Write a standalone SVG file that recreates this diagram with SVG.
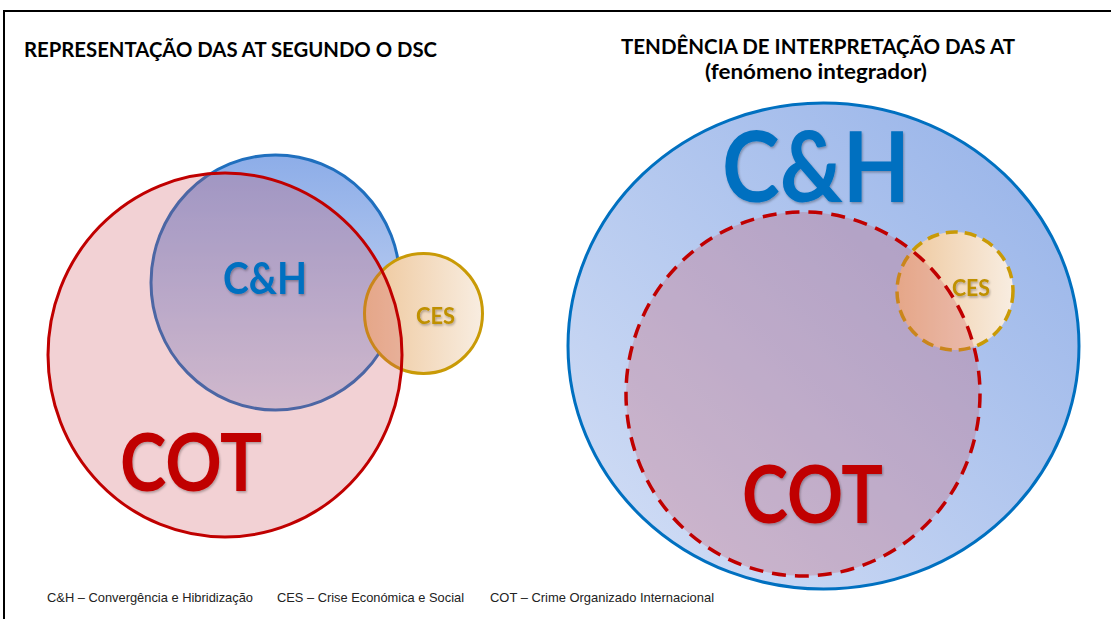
<svg xmlns="http://www.w3.org/2000/svg" width="1111" height="619" viewBox="0 0 1111 619">
  <defs>
    <linearGradient id="gBlueL" x1="0" y1="0" x2="0" y2="1">
      <stop offset="0" stop-color="#8DADE8"/>
      <stop offset="1" stop-color="#D2DEF5"/>
    </linearGradient>
    <linearGradient id="gBlueR" x1="1" y1="0" x2="0" y2="1">
      <stop offset="0" stop-color="#94B1E8"/>
      <stop offset="1" stop-color="#D5E0F6"/>
    </linearGradient>
    <linearGradient id="gCes" x1="0" y1="0" x2="1" y2="0">
      <stop offset="0" stop-color="#EEC699"/>
      <stop offset="1" stop-color="#F8EDE1"/>
    </linearGradient>
    <filter id="shadow" x="-10%" y="-10%" width="130%" height="130%">
      <feDropShadow dx="1" dy="1.5" stdDeviation="1" flood-color="#000" flood-opacity="0.3"/>
    </filter>
  </defs>
  <style>
    .title { font-family: Lato, "Liberation Sans", sans-serif; font-weight: bold; font-size: 20.5px; fill: #000; }
    .legend { font-family: "Liberation Sans", Arial, sans-serif; font-size: 13.5px; fill: #222; }
    .lbl { font-family: Lato, "Liberation Sans", sans-serif; font-weight: bold; filter: url(#shadow); }
    .blue { fill: #0070C0; }
    .red { fill: #C00000; }
    .gold { fill: #BF9000; }
    .cot { fill: rgb(204,76,88); fill-opacity: 0.26; stroke: #C00000; stroke-width: 3; }
    .ces { fill: url(#gCes); stroke: #C99A06; stroke-width: 3; }
    .dashed { stroke-dasharray: 14 9; stroke-width: 3.5; }
    .dashed2 { stroke-dasharray: 12 7; stroke-width: 3.5; }
  </style>
  <rect width="1111" height="619" fill="#fff"/>
  <path d="M4,619 V11 H1111" fill="none" stroke="#000" stroke-width="2"/>

  <g id="titles">
    <text class="title" x="24" y="57" textLength="413" lengthAdjust="spacingAndGlyphs">REPRESENTAÇÃO DAS AT SEGUNDO O DSC</text>
    <text class="title" x="621" y="54" textLength="394" lengthAdjust="spacingAndGlyphs">TENDÊNCIA DE INTERPRETAÇÃO DAS AT</text>
    <text class="title" x="705" y="79" textLength="222" lengthAdjust="spacingAndGlyphs">(fenómeno integrador)</text>
  </g>

  <g id="left-CH">
    <ellipse cx="275.5" cy="282.5" rx="124.5" ry="127.5" fill="url(#gBlueL)" stroke="#1F6FBE" stroke-width="3"/>
  </g>
  <g id="left-CES">
    <ellipse cx="423.5" cy="313.5" rx="59" ry="60" class="ces"/>
  </g>
  <g id="left-COT">
    <ellipse cx="225" cy="355" rx="177" ry="182" class="cot"/>
  </g>
  <g id="left-labels">
    <text class="lbl blue" x="223" y="294" font-size="44" textLength="84" lengthAdjust="spacingAndGlyphs">C&amp;H</text>
    <text class="lbl gold" x="416" y="324" font-size="22" textLength="39" lengthAdjust="spacingAndGlyphs">CES</text>
    <text class="lbl red" x="120" y="491" font-size="80" textLength="142" lengthAdjust="spacingAndGlyphs">COT</text>
  </g>

  <g id="right-CH">
    <ellipse cx="823.5" cy="346" rx="255.5" ry="243" fill="url(#gBlueR)" stroke="#0070C0" stroke-width="3"/>
  </g>
  <g id="right-CES">
    <ellipse cx="955" cy="291" rx="58" ry="59" class="ces dashed2"/>
  </g>
  <g id="right-COT">
    <ellipse cx="803" cy="394" rx="177" ry="182" class="cot dashed"/>
  </g>
  <g id="right-labels">
    <text class="lbl blue" x="722" y="202" font-size="97" textLength="188" lengthAdjust="spacingAndGlyphs">C&amp;H</text>
    <text class="lbl gold" x="952" y="296" font-size="22" textLength="38" lengthAdjust="spacingAndGlyphs">CES</text>
    <text class="lbl red" x="742" y="523" font-size="80" textLength="141" lengthAdjust="spacingAndGlyphs">COT</text>
  </g>

  <g id="connectors"/>

  <g id="legend">
    <text class="legend" x="47" y="602" textLength="206" lengthAdjust="spacingAndGlyphs">C&amp;H – Convergência e Hibridização</text>
    <text class="legend" x="277" y="602" textLength="187" lengthAdjust="spacingAndGlyphs">CES – Crise Económica e Social</text>
    <text class="legend" x="490" y="602" textLength="224" lengthAdjust="spacingAndGlyphs">COT – Crime Organizado Internacional</text>
  </g>
</svg>
